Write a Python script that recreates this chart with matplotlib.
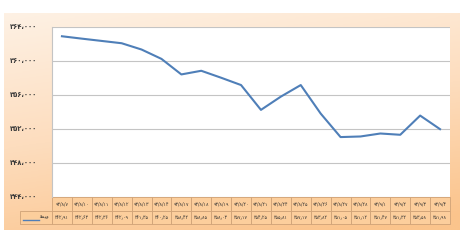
import matplotlib
matplotlib.use("Agg")
import matplotlib.pyplot as plt
import numpy as np
from matplotlib.patches import Rectangle
from matplotlib.colors import LinearSegmentedColormap
from matplotlib.transforms import blended_transform_factory

# ---- data ----
dates = ["93/8/7", "93/8/10", "93/8/11", "93/8/12", "93/8/13", "93/8/14", "93/8/17",
         "93/8/18", "93/8/19", "93/8/20", "93/8/21", "93/8/24", "93/8/25", "93/8/26",
         "93/8/27", "93/8/28", "93/9/1", "93/9/2", "93/9/3", "93/9/4"]
values = [362910, 362630, 362360, 362090, 361350, 360250, 358420, 358850, 358030, 357170,
          354250, 355810, 357170, 353820, 351050, 351120, 351470, 351320, 353580, 351980]
yticks = [344000, 348000, 352000, 356000, 360000, 364000]
series_name = "\ufeed\ufef4\ufee4\ufed7"[::-1]  # visual form of the series label

FA = str.maketrans("0123456789", "۰۱۲۳۴۵۶۷۸۹")
def fa(s):
    return s.translate(FA)

W, H = 465, 245
fig = plt.figure(figsize=(W / 100, H / 100), dpi=100)
fig.patch.set_facecolor("white")

# background card with gradient
bg = fig.add_axes([4 / W, 1 - 230 / H, 455 / W, 217 / H])
bg.set_axis_off()
cmap = LinearSegmentedColormap.from_list("peach", ["#FEF1E4", "#FDDDBE", "#FBC48C"])
yy, xx = np.mgrid[0:1:200j, 0:1:200j]
grad = 0.8 * yy + 0.25 * xx
bg.imshow(grad, cmap=cmap, aspect="auto", extent=[0, 1, 1, 0], vmin=0, vmax=1)
bg.set_xlim(0, 1)
bg.set_ylim(1, 0)

# plot area
left, right, top, bottom = 52, 450, 27, 197
ax = fig.add_axes([left / W, 1 - bottom / H, (right - left) / W, (bottom - top) / H])
ax.set_facecolor("white")
n = len(values)
x = np.arange(n)
ax.plot(x, values, color="#4F7FB8", lw=1.5, solid_joinstyle="round", zorder=3)
ax.set_xlim(-0.5, n - 0.5)
ax.set_ylim(344000, 364000)
ax.set_yticks(yticks)
ax.set_yticklabels([fa(f"{v:,}").replace(",", "،") for v in yticks],
                   fontsize=4.9, fontweight="bold", color="#3a3a3a")
ax.tick_params(axis="y", length=0, pad=11)
ax.set_xticks([])
ax.yaxis.grid(True, color="#C4C4C4", lw=0.8)
for s in ["top", "right", "bottom"]:
    ax.spines[s].set_visible(False)
ax.spines["left"].set_color("#C4C4C4")
ax.spines["left"].set_linewidth(0.8)

# data table below the plot
ph = bottom - top
def ya(py):
    return (bottom - py) / ph

r1t, r1b, r2b = 197, 211, 224
edge = "#CFA277"
fill = "#FCCE9C"
bt = blended_transform_factory(ax.transData, ax.transAxes)
for i in range(n):
    for (t, b, txt) in [(r1t, r1b, fa(dates[i])), (r1b, r2b, fa(f"{values[i]/1000:.2f}").replace(".", "٫"))]:
        ax.add_patch(Rectangle((i - 0.5, ya(b)), 1, ya(t) - ya(b), transform=bt,
                               facecolor=fill, edgecolor=edge, lw=0.6, clip_on=False, zorder=1))
        ax.text(i, (ya(t) + ya(b)) / 2, txt, transform=bt, ha="center", va="center",
                fontsize=3.3, color="#333333", clip_on=False)

# legend cell
lx0 = (20 - left) / (right - left)
ax.add_patch(Rectangle((lx0, ya(r2b)), -lx0, ya(r1b) - ya(r2b), transform=ax.transAxes,
                       facecolor=fill, edgecolor=edge, lw=0.6, clip_on=False))
ax.plot([(23 - left) / (right - left), (39 - left) / (right - left)],
        [ya(220), ya(220)], transform=ax.transAxes, color="#4F7FB8", lw=1.0, clip_on=False)
ax.text((49 - left) / (right - left), ya(217), series_name, transform=ax.transAxes,
        ha="right", va="center", fontsize=3.8, color="#333333", clip_on=False)

fig.savefig("out.png", dpi=100, facecolor="white")
